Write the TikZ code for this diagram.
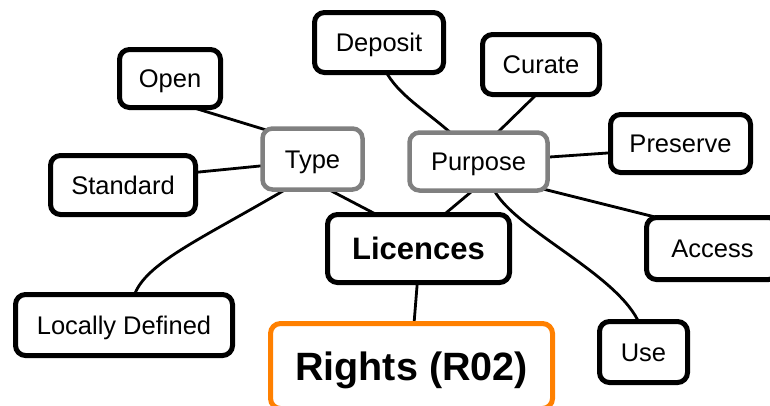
\documentclass[tikz,border=0pt]{standalone}
\usepackage{fontspec}
\setmainfont{Liberation Sans}
\usetikzlibrary{calc}
\definecolor{boxgray}{HTML}{808080}
\definecolor{rightsorange}{HTML}{FF8000}
\pgfdeclarelayer{paper}
\pgfdeclarelayer{links}
\pgfsetlayers{paper,links,main}
\tikzset{
  topic/.style={rectangle, rounded corners=10pt, draw=black, line width=5pt,
    fill=white, inner sep=0pt, text=black,
    text height=18.3pt, text depth=0pt,
    font=\fontsize{25.5}{30}\selectfont},
  facet/.style={topic, draw=boxgray, line width=4.5pt},
  hub/.style={topic, text height=22.2pt, font=\fontsize{31}{36}\selectfont\bfseries},
  root/.style={topic, draw=rightsorange, text height=28.3pt,
    font=\fontsize{39.5}{46}\selectfont\bfseries},
  link/.style={draw=black, line width=2.8pt}
}
\begin{document}
\begin{tikzpicture}[x=1pt, y=-1pt]
  \useasboundingbox (0,0) rectangle (770,405);
  \begin{pgfonlayer}{paper}
    \fill[white] (0,0) rectangle (770,405);
  \end{pgfonlayer}
  \clip (0,0) rectangle (770,405);

  % concept boxes
  \node[topic, minimum width=101pt, minimum height=58pt] (open) at (170,78.5) {Open};
  \node[topic, minimum width=129pt, minimum height=60pt] (deposit) at (379,42.5) {Deposit};
  \node[topic, minimum width=117pt, minimum height=60pt] (curate) at (541,64.5) {Curate};
  \node[facet, minimum width=100pt, minimum height=61pt] (type) at (312.5,159) {Type};
  \node[topic, minimum width=145pt, minimum height=59pt] (standard) at (123,185) {Standard};
  \node[facet, minimum width=138pt, minimum height=58pt] (purpose) at (478.5,161.5) {Purpose};
  \node[topic, minimum width=140pt, minimum height=58pt] (preserve) at (680.5,143.5) {Preserve};
  \node[hub, minimum width=182pt, minimum height=68pt] (licences) at (418.5,248.5) {Licences};
  \node[topic, minimum width=132pt, minimum height=62pt] (access) at (712.5,248.5) {Access};
  \node[topic, minimum width=217pt, minimum height=61pt] (local) at (124,325) {Locally Defined};
  \node[root, minimum width=282pt, minimum height=85pt] (rights) at (411.5,366) {Rights (R02)};
  \node[topic, minimum width=88pt, minimum height=61pt] (use) at (643.5,352) {Use};

  % connectors, kept behind the boxes
  \begin{pgfonlayer}{links}
    \draw[link] ($(open)+(21,28.5)$) -- ($(type)+(-36.5,-26)$);
    \draw[link] ($(standard)+(62,-11.6)$) -- ($(type)+(-37.5,5.5)$);
    \draw[link] ($(type)+(-24.5,29)$) .. controls (200,240) and (140,265) .. ($(local)+(9,-25)$);
    \draw[link] ($(type)+(7.5,26)$) -- ($(licences)+(-33.5,-29.5)$);
    \draw[link] ($(deposit)+(6,27.5)$) .. controls (398,95) and (425,110) .. ($(purpose)+(-26.5,-27.5)$);
    \draw[link] ($(curate)+(-1,26.5)$) -- ($(purpose)+(15.5,-25.5)$);
    \draw[link] ($(purpose)+(56.5,-3.5)$) -- ($(preserve)+(-58.5,8.5)$);
    \draw[link] ($(purpose)+(56.5,25.5)$) -- ($(access)+(-37.5,-26.5)$);
    \draw[link] ($(purpose)+(-7.5,30.5)$) -- ($(licences)+(21.5,-30.5)$);
    \draw[link] ($(purpose)+(15.5,28.5)$) .. controls (515,230) and (620,275) .. ($(use)+(-3.5,-27)$);
    \draw[link] ($(licences)+(-1,31.5)$) -- ($(rights)+(2,-36)$);
  \end{pgfonlayer}
\end{tikzpicture}
\end{document}
